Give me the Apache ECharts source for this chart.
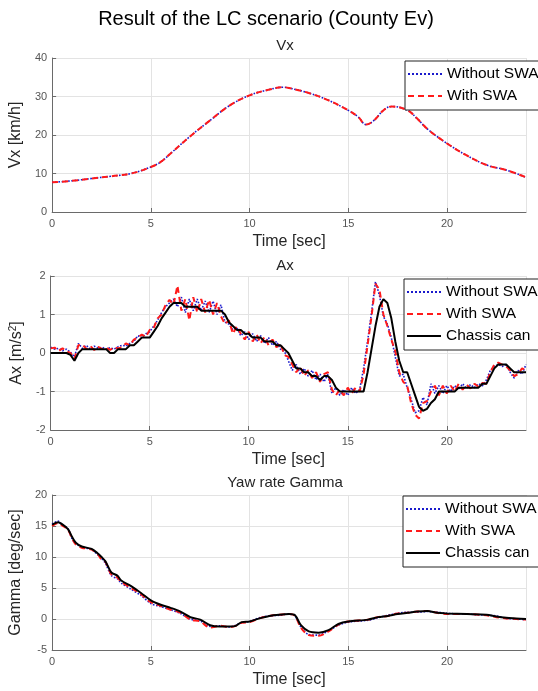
<!DOCTYPE html>
<html>
<head>
<meta charset="utf-8">
<script src="https://cdn.jsdelivr.net/npm/echarts@6/dist/echarts.min.js"></script>
<style>html,body{margin:0;padding:0;background:#fff;}#c{width:538px;height:691px;}</style>
</head>
<body>
<div id="c"></div>
<script>
// ---- Data ----
var vxTime = [0,1,2,3,4,5,5.5,6,7,8,9,10,11,11.7,12,13,14,15,15.5,15.9,16.3,16.8,17.2,18,18.5,19,20,21,22,23,24];
var vxWithout = [7.7,8.1,8.7,9.3,10.0,11.7,13.0,15.2,19.7,23.8,27.7,30.3,31.8,32.4,32.2,30.9,29.0,26.4,24.7,22.7,23.8,26.5,27.4,26.4,24.2,21.6,17.8,14.7,12.2,10.9,9.0];
var vxWith    = [7.7,8.1,8.7,9.3,10.0,11.7,13.0,15.2,19.7,23.8,27.7,30.3,31.8,32.4,32.2,30.9,29.0,26.4,24.7,22.7,23.8,26.5,27.4,26.4,24.2,21.6,17.8,14.7,12.2,10.9,9.0];

var axTime = [0,0.2,0.4,0.6,0.8,1,1.2,1.4,1.6,1.8,2,2.2,2.4,2.6,2.8,3,3.2,3.4,3.6,3.8,4,4.2,4.4,4.6,4.8,5,5.2,5.4,5.6,5.8,6,6.2,6.4,6.6,6.8,7,7.2,7.4,7.6,7.8,8,8.2,8.4,8.6,8.8,9,9.2,9.4,9.6,9.8,10,10.2,10.4,10.6,10.8,11,11.2,11.4,11.6,11.8,12,12.2,12.4,12.6,12.8,13,13.2,13.4,13.6,13.8,14,14.2,14.4,14.6,14.8,15,15.2,15.4,15.6,15.8,16,16.2,16.4,16.6,16.8,17,17.2,17.4,17.6,17.8,18,18.2,18.4,18.6,18.8,19,19.2,19.4,19.6,19.8,20,20.2,20.4,20.6,20.8,21,21.2,21.4,21.6,21.8,22,22.2,22.4,22.6,22.8,23,23.2,23.4,23.6,23.8,24];
var axWithout = [0.15,0.10,0.12,0.06,0.10,0.02,-0.10,0.25,0.12,0.20,0.10,0.18,0.12,0.15,0.10,0.14,0.10,0.16,0.20,0.18,0.25,0.30,0.45,0.40,0.50,0.55,0.70,0.85,1.05,1.20,1.30,1.40,1.20,1.45,1.05,1.40,1.10,1.40,1.10,1.35,1.05,1.35,1.00,1.25,0.80,0.75,0.60,0.65,0.45,0.55,0.35,0.50,0.30,0.45,0.25,0.40,0.20,0.30,0.10,0.05,-0.20,-0.45,-0.30,-0.55,-0.40,-0.60,-0.45,-0.70,-0.55,-0.75,-0.55,-1.05,-0.90,-1.10,-0.95,-1.10,-0.90,-1.05,-0.95,-0.40,0.30,1.05,1.85,1.50,0.95,0.75,0.40,-0.10,-0.60,-0.55,-0.90,-1.20,-1.55,-1.50,-1.15,-1.35,-0.80,-1.05,-0.85,-1.05,-0.85,-1.00,-0.85,-0.95,-0.80,-0.92,-0.82,-0.90,-0.80,-0.85,-0.70,-0.45,-0.35,-0.30,-0.35,-0.30,-0.50,-0.65,-0.45,-0.55,-0.30];
var axWith = [0.12,0.14,0.05,0.12,0.04,0.00,-0.15,0.20,0.22,0.10,0.18,0.08,0.16,0.10,0.14,0.08,0.15,0.12,0.15,0.25,0.20,0.35,0.40,0.48,0.42,0.60,0.65,0.90,1.00,1.25,1.38,1.25,1.75,1.10,1.40,0.85,1.45,1.05,1.40,1.05,1.38,1.00,1.30,0.95,0.75,0.85,0.50,0.70,0.50,0.35,0.55,0.30,0.48,0.25,0.42,0.20,0.35,0.15,0.25,-0.05,-0.10,-0.30,-0.50,-0.35,-0.60,-0.45,-0.65,-0.50,-0.75,-0.55,-0.50,-0.95,-1.10,-0.95,-1.10,-0.90,-1.05,-0.90,-1.00,-0.55,0.20,0.95,1.80,1.65,1.00,0.70,0.35,0.05,-0.50,-0.75,-0.85,-1.30,-1.60,-1.70,-1.30,-1.25,-1.00,-0.85,-1.10,-0.85,-1.05,-0.85,-1.00,-0.80,-0.95,-0.82,-0.92,-0.80,-0.88,-0.78,-0.80,-0.50,-0.30,-0.25,-0.30,-0.35,-0.45,-0.60,-0.55,-0.40,-0.45];
var axChassis = [0,0,0,0,0,-0.05,-0.20,0.0,0.10,0.10,0.10,0.10,0.10,0.10,0.10,0.0,0.0,0.10,0.10,0.10,0.20,0.20,0.30,0.40,0.40,0.40,0.55,0.70,0.90,1.05,1.20,1.30,1.30,1.30,1.20,1.20,1.20,1.20,1.10,1.10,1.10,1.10,1.10,1.10,1.00,0.80,0.70,0.60,0.60,0.50,0.50,0.40,0.40,0.40,0.30,0.30,0.30,0.20,0.20,0.10,0.00,-0.20,-0.40,-0.40,-0.50,-0.50,-0.60,-0.60,-0.70,-0.60,-0.60,-0.70,-0.90,-1.00,-1.00,-1.00,-1.00,-1.00,-1.00,-1.00,-0.50,0.10,0.70,1.20,1.40,1.30,0.90,0.30,-0.20,-0.50,-0.50,-0.80,-1.10,-1.40,-1.50,-1.45,-1.30,-1.20,-1.00,-1.00,-1.00,-1.00,-1.00,-0.90,-0.90,-0.90,-0.90,-0.90,-0.90,-0.80,-0.80,-0.60,-0.40,-0.30,-0.30,-0.30,-0.40,-0.50,-0.50,-0.50,-0.50];

var gTime = [0,0.3,0.5,0.8,1,1.2,1.5,2,2.3,2.5,2.7,3,3.3,3.5,4,4.5,5,5.5,6,6.5,7,7.5,8,8.5,9,9.3,9.6,10,10.5,11,11.5,12,12.3,12.6,13,13.5,14,14.5,15,16,16.5,17,17.5,18,18.5,19,19.5,20,21,22,22.5,23,23.5,24];
var gChassis = [15.2,15.6,15.3,14.5,13.3,12.3,11.7,11.3,10.6,10.0,9.3,7.5,7.0,6.2,5.3,4.2,3.0,2.3,1.8,1.2,0.3,-0.1,-1.0,-1.2,-1.2,-1.1,-0.5,-0.4,0.1,0.5,0.7,0.8,0.6,-1.0,-2.0,-2.2,-1.8,-0.8,-0.4,-0.1,0.3,0.5,0.8,1.0,1.2,1.3,1.0,0.9,0.8,0.7,0.4,0.2,0.1,0.0];
var gWithout = [15.3,15.8,15.2,14.6,13.0,12.2,11.6,11.2,10.4,9.8,9.0,7.0,6.5,5.8,4.8,3.8,2.5,2.0,1.5,0.9,0.0,-0.3,-1.2,-1.1,-1.3,-1.0,-0.6,-0.4,0.2,0.5,0.6,0.8,0.5,-1.3,-2.5,-2.6,-1.9,-1.0,-0.5,-0.2,0.2,0.6,0.9,1.1,1.1,1.2,1.1,0.9,0.8,0.6,0.5,0.1,0.0,-0.1];
var gWith = [15.0,15.5,15.1,14.4,13.1,12.0,11.5,11.2,10.5,9.6,9.2,7.2,6.7,6.0,5.0,4.0,2.7,2.1,1.5,1.0,-0.1,-0.4,-1.4,-1.1,-1.3,-1.1,-0.6,-0.5,0.1,0.5,0.7,0.8,0.5,-1.4,-2.6,-2.7,-2.0,-0.9,-0.4,-0.1,0.3,0.5,0.9,1.0,1.2,1.3,1.0,0.8,0.8,0.6,0.3,0.1,0.0,-0.1];

var xTicks = [0,5,10,15,20];
var yRanges = [[0,40,10],[-2,2,1],[-5,20,5]];
var yNames = ['Vx [km/h]','Ax [m/s{sup|2}]','Gamma [deg/sec]'];
var titles = ['Result of the LC scenario (County Ev)','Vx','Ax','Yaw rate Gamma'];

// ---- Build ----
function pairs(t, v){ return t.map(function(x,i){ return [x, v[i]]; }); }
var FONT = '"Liberation Sans", Arial, sans-serif';
var gridTops = [58, 276, 495];
var gridH = [154, 154, 155];

var grids = [], xAxes = [], yAxes = [];
for (var i=0;i<3;i++){
  grids.push({left:44, top:gridTops[i], width:482, height:gridH[i], containLabel:false});
  xAxes.push({
    type:'value', gridIndex:i, min:0, max:24, interval:5,
    name:'Time [sec]', nameLocation:'middle', nameGap:22,
    nameTextStyle:{fontFamily:FONT, fontSize:16, color:'#262626'},
    axisLine:{show:true, onZero:false, lineStyle:{color:'#6a6a6a', width:1}},
    axisTick:{show:true, inside:true, length:4, lineStyle:{color:'#6a6a6a'}},
    axisLabel:{fontFamily:FONT, fontSize:11, color:'#555', margin:6, showMaxLabel:false},
    splitLine:{show:true, lineStyle:{color:'#e3e3e3', width:1}}
  });
  yAxes.push({
    type:'value', gridIndex:i, min:yRanges[i][0], max:yRanges[i][1], interval:yRanges[i][2],
    name:yNames[i], nameLocation:'middle', nameGap:21, nameRotate:90,
    nameTextStyle:{fontFamily:FONT, fontSize:16, color:'#262626',
      rich:{sup:{fontFamily:FONT, fontSize:10, color:'#262626', verticalAlign:'top', padding:[0,0,8,0]}}},
    axisLine:{show:true, onZero:false, lineStyle:{color:'#6a6a6a', width:1}},
    axisTick:{show:true, inside:true, length:4, lineStyle:{color:'#6a6a6a'}},
    axisLabel:{fontFamily:FONT, fontSize:11, color:'#555', margin:5},
    splitLine:{show:true, lineStyle:{color:'#e3e3e3', width:1}}
  });
}

var blueStyle = {color:'#1a1acc', type:'dotted', width:1.6};
var redStyle = {color:'#ff1a1a', type:[6,4], width:2};
var blackStyle = {color:'#000000', type:'solid', width:2};

function ser(name, idx, t, v, ls, smooth){
  return {name:name, type:'line', xAxisIndex:idx, yAxisIndex:idx, data:pairs(t,v),
    showSymbol:false, symbol:'none', smooth:smooth||false, lineStyle:ls, itemStyle:{color:ls.color},
    animation:false};
}

var series = [
  ser('Without SWA',0,vxTime,vxWithout,blueStyle,0.4),
  ser('With SWA',0,vxTime,vxWith,redStyle,0.4),
  ser('Without SWA',1,axTime,axWithout,blueStyle),
  ser('With SWA',1,axTime,axWith,redStyle),
  ser('Chassis can',1,axTime,axChassis,blackStyle),
  ser('Without SWA',2,gTime,gWithout,blueStyle,0.3),
  ser('With SWA',2,gTime,gWith,redStyle,0.3),
  ser('Chassis can',2,gTime,gChassis,blackStyle,0.3)
];

function legend(top, left, names){
  return {top:top, left:left, orient:'vertical', data:names, selectedMode:false,
    itemWidth:34, itemHeight:14, itemGap:6, padding:[5,6,6,2],
    itemStyle:{opacity:0, borderWidth:0},
    backgroundColor:'#fff', borderColor:'#222', borderWidth:1, borderRadius:0,
    textStyle:{fontFamily:FONT, fontSize:15.5, color:'#000'}};
}

var option = {
  backgroundColor:'#fff',
  animation:false,
  title:[
    {text:titles[0], left:266, top:9, textAlign:'center', padding:0, textStyle:{fontFamily:FONT, fontSize:20, fontWeight:'normal', color:'#000'}},
    {text:titles[1], left:285, top:38, textAlign:'center', padding:0, textStyle:{fontFamily:FONT, fontSize:15, fontWeight:'normal', color:'#262626'}},
    {text:titles[2], left:285, top:258, textAlign:'center', padding:0, textStyle:{fontFamily:FONT, fontSize:15, fontWeight:'normal', color:'#262626'}},
    {text:titles[3], left:285, top:475, textAlign:'center', padding:0, textStyle:{fontFamily:FONT, fontSize:15, fontWeight:'normal', color:'#262626'}}
  ],
  legend:[
    legend(61, 405, ['Without SWA','With SWA']),
    legend(279, 404, ['Without SWA','With SWA','Chassis can']),
    legend(496, 403, ['Without SWA','With SWA','Chassis can'])
  ],
  grid:grids, xAxis:xAxes, yAxis:yAxes, series:series
};

var chart = echarts.init(document.getElementById('c'), null, {renderer:'canvas'});
chart.setOption(option);
</script>
</body>
</html>
